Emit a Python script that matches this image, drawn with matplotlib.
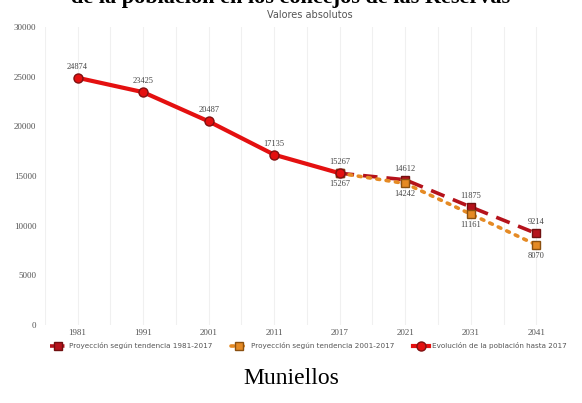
import matplotlib
matplotlib.use("Agg")
from matplotlib import pyplot as plt

# datos
years = ["1981", "1991", "2001", "2011", "2017", "2021", "2031", "2041"]
pob_hist = [24874, 23425, 20487, 17135, 15267]
proy_1981 = [15267, 14612, 11875, 9214]
proy_2001 = [15267, 14242, 11161, 8070]
yticks = [0, 5000, 10000, 15000, 20000, 25000, 30000]
leg_labels = ["Proyección según tendencia 1981-2017",
              "Proyección según tendencia 2001-2017",
              "Evolución de la población hasta 2017"]

red = "#e41010"
dark_red = "#b5121b"
orange = "#e58a24"

fig = plt.figure(figsize=(5.82, 4.03), dpi=100)
ax = fig.add_axes([0.077, 0.1935, 0.912, 0.74])

x = list(range(len(years)))
xh = x[:5]
xp = x[4:]

# lineas
l1, = ax.plot(xp, proy_1981, color=dark_red, lw=2.6, ls=(0, (4, 2.5)),
              marker="s", ms=6, mfc=dark_red, mec="#701010", zorder=3)
l2, = ax.plot(xp, proy_2001, color=orange, lw=2.6, ls=(0, (0.8, 1.8)),
              dash_capstyle="round", marker="s", ms=6, mfc=orange, mec="#8a5010", zorder=3)
l3, = ax.plot(xh, pob_hist, color=red, lw=3, marker="o", ms=6.5,
              mfc=red, mec="#801010", zorder=4)

lab = dict(fontsize=6, family="Liberation Serif", color="#444444", ha="center")
for xi, v in zip(xh, pob_hist):
    ax.text(xi, v + 700, str(v), va="bottom", **lab)
for xi, v in zip(xp, proy_1981):
    if xi != 4:
        ax.text(xi, v + 700, str(v), va="bottom", **lab)
for xi, v in zip(xp, proy_2001):
    ax.text(xi, v - 700, str(v), va="top", **lab)

ax.set_xlim(-0.5, 7.6)
ax.set_ylim(0, 30000)
ax.set_xticks(x)
ax.set_xticklabels(years)
ax.set_yticks(yticks)
ax.set_xticks([i + 0.5 for i in range(-1, 7)], minor=True)
ax.tick_params(axis="both", which="both", length=0, labelsize=6.5, labelcolor="#555555")
ax.tick_params(axis="x", pad=3)
ax.tick_params(axis="y", pad=6)
for lbl in ax.get_xticklabels() + ax.get_yticklabels():
    lbl.set_family("Liberation Serif")
ax.grid(axis="x", which="both", color="#f0f0f0", lw=0.8)
ax.grid(axis="y", visible=False)
for s in ax.spines.values():
    s.set_visible(False)

ax.set_title("Valores absolutos", fontsize=7, color="#555555", pad=6)

fig.legend([l1, l2, l3], leg_labels, loc="center", bbox_to_anchor=(0.53, 0.142),
           ncol=3, frameon=False, fontsize=5.2, labelcolor="#555555",
           handlelength=2.2, columnspacing=2.6, handletextpad=0.5)

# titulo cortado arriba y pie
fig.text(0.5, 0.992, "de la población en los concejos de las Reservas",
         ha="center", va="baseline", fontsize=16, fontweight="bold",
         family="Liberation Serif", color="black")
fig.text(0.5, 0.062, "Muniellos", ha="center", va="center", fontsize=17,
         family="Liberation Serif", color="black")

fig.savefig("out.png", dpi=100)
